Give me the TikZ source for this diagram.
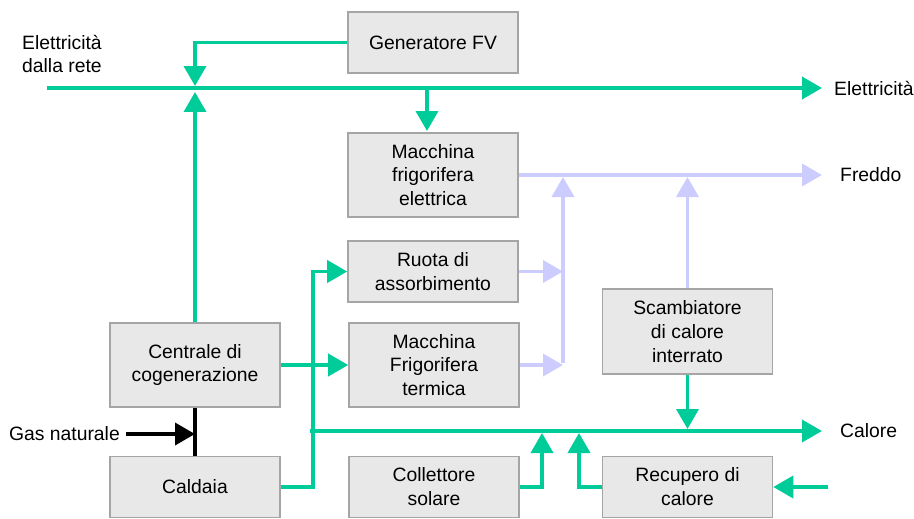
\documentclass[tikz,border=0pt]{standalone}
\usepackage{fontspec}
\setmainfont{Liberation Sans}
\usepackage{tikz}
\usetikzlibrary{arrows.meta,positioning}
\definecolor{verde}{RGB}{0,204,153}
\definecolor{lilla}{RGB}{204,204,255}
\definecolor{fondo}{RGB}{232,232,232}
\definecolor{bordo}{RGB}{165,165,165}

\begin{document}
\begin{tikzpicture}[x=0.02cm,y=-0.02cm,
  font=\fontsize{11}{13.6}\selectfont,
  blocco/.style={draw=bordo, fill=fondo, line width=0.9pt, minimum width=3.4cm, align=center, inner sep=0pt},
  el/.style={verde, line width=2.1pt},
  freddo/.style={lilla, line width=2.1pt},
  gas/.style={black, line width=2.1pt},
  punta/.style={-{Triangle[width=0.44cm,length=0.4cm]}}]
\useasboundingbox (0,0) rectangle (914,518);

% blocchi
\node [blocco, minimum height=1.22cm] (gen) at (433,42.5) {Generatore FV};
\node [blocco, minimum height=1.68cm] (mfe) at (433,175) {Macchina\\frigorifera\\elettrica};
\node [blocco, minimum height=1.22cm] (ruota) at (433,271.5) {Ruota di\\assorbimento};
\node [blocco, minimum height=1.68cm] (mft) at (434,365) {Macchina\\Frigorifera\\termica};
\node [blocco, minimum height=1.68cm] (cog) at (195,365) {Centrale di\\cogenerazione};
\node [blocco, minimum height=1.22cm] (cal) at (195,487) {Caldaia};
\node [blocco, minimum height=1.22cm] (col) at (434,487) {Collettore\\solare};
\node [blocco, minimum height=1.22cm] (rec) at (687.5,487) {Recupero di\\calore};
\node [blocco, minimum height=1.7cm] (sca) at (687.5,331.5) {Scambiatore\\di calore\\interrato};

% etichette
\node [align=left, anchor=west] (rete) at (16,54) {Elettricità\\dalla rete};
\node [anchor=west] (eout) at (828,88) {Elettricità};
\node [anchor=west] (fout) at (834,175) {Freddo};
\node [anchor=west] (cout) at (834,431) {Calore};
\node [anchor=east] (gasnat) at (126,434) {Gas naturale};

\coordinate (e0) at (47,88);
\coordinate (e1) at (822,88);
\coordinate (f1) at (822,175);
\coordinate (c0) at (310,431);
\coordinate (c1) at (822,431);
\coordinate (nodo1) at (563,363);
\coordinate (recin) at (828,487);

% elettricita
\draw [el, punta] (e0) -- (e1);
\draw [el, punta] (gen.west) -| (195,86);
\draw [el, punta] (cog.north) -- (195,92);
\draw [el, punta] (427,88) -- (427,131);

% freddo
\draw [freddo, punta] (mfe.east) -- (f1);
\draw [freddo, punta] (nodo1) -- (563,177);
\draw [freddo, punta] (ruota.east) -- (ruota.east -| nodo1);
\draw [freddo, punta] (mft.east) -- (mft.east -| nodo1);
\draw [freddo, punta] (sca.north) -- (687.5,177);

% calore
\draw [el, punta] (c0) -- (c1);
\draw [el, punta] (cal.east) -- ++(32,0) |- (ruota.west);
\draw [el, punta] (cog.east) -- (mft.west);
\draw [el, punta] (sca.south) -- (687.5,429);
\draw [el, punta] (col.east) -| (542,433);
\draw [el, punta] (rec.west) -| (579,433);
\draw [el, punta] (recin) -- (rec.east);

% gas
\draw [gas] (cog.south) -- (cal.north);
\draw [gas, punta] (gasnat.east) -- (cog.south |- gasnat.east);
\end{tikzpicture}
\end{document}
